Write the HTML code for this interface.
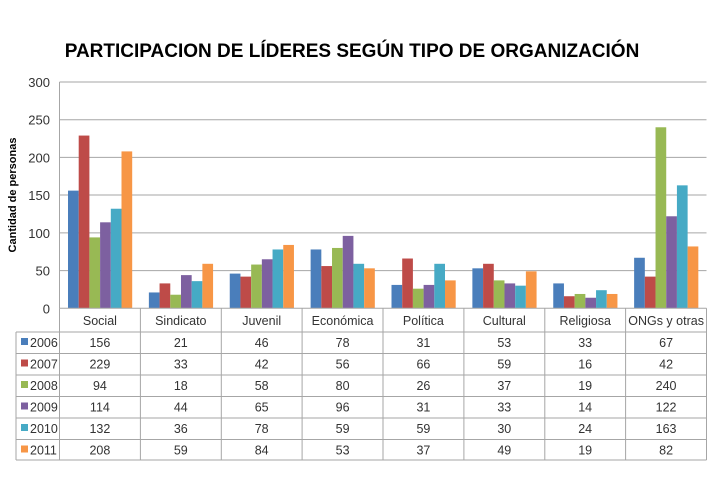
<!DOCTYPE html>
<html><head><meta charset="utf-8"><style>
body{margin:0;background:#fff}
svg{display:block;font-family:"Liberation Sans",sans-serif}
</style></head><body>
<svg width="710" height="500" viewBox="0 0 710 500" xmlns="http://www.w3.org/2000/svg">
<rect width="710" height="500" fill="#fff"/>
<text x="352" y="57" text-anchor="middle" font-size="19" font-weight="bold" fill="#000">PARTICIPACION DE LÍDERES SEGÚN TIPO DE ORGANIZACIÓN</text>
<g stroke="#a6a6a6" stroke-width="1">
<line x1="59.5" x2="706.5" y1="82" y2="82"/>
<line x1="59.5" x2="706.5" y1="119.7" y2="119.7"/>
<line x1="59.5" x2="706.5" y1="157.4" y2="157.4"/>
<line x1="59.5" x2="706.5" y1="195" y2="195"/>
<line x1="59.5" x2="706.5" y1="232.9" y2="232.9"/>
<line x1="59.5" x2="706.5" y1="270.6" y2="270.6"/>
<line x1="59.5" x2="59.5" y1="82" y2="308.3"/>
</g>
<g font-size="13" fill="#333" text-anchor="end">
<text x="50" y="87">300</text><text x="50" y="124.7">250</text><text x="50" y="162.4">200</text>
<text x="50" y="200">150</text><text x="50" y="237.9">100</text><text x="50" y="275.6">50</text><text x="50" y="313.3">0</text>
</g>
<defs>
<g id="c0"><rect x="8.5" width="10.7" height="156" fill="#4a7ebb"/><rect x="19.2" width="10.7" height="229" fill="#be4b48"/><rect x="29.9" width="10.7" height="94" fill="#98b954"/><rect x="40.6" width="10.7" height="114" fill="#7d60a0"/><rect x="51.3" width="10.7" height="132" fill="#46aac5"/><rect x="62" width="10.7" height="208" fill="#f79646"/></g>
</defs>
<g transform="translate(59.5,308.3) scale(1,-0.7543)"><rect x="8.5" width="10.7" height="156" fill="#4a7ebb"/><rect x="19.2" width="10.7" height="229" fill="#be4b48"/><rect x="29.9" width="10.7" height="94" fill="#98b954"/><rect x="40.6" width="10.7" height="114" fill="#7d60a0"/><rect x="51.3" width="10.7" height="132" fill="#46aac5"/><rect x="62" width="10.7" height="208" fill="#f79646"/></g>
<g transform="translate(140.375,308.3) scale(1,-0.7543)"><rect x="8.5" width="10.7" height="21" fill="#4a7ebb"/><rect x="19.2" width="10.7" height="33" fill="#be4b48"/><rect x="29.9" width="10.7" height="18" fill="#98b954"/><rect x="40.6" width="10.7" height="44" fill="#7d60a0"/><rect x="51.3" width="10.7" height="36" fill="#46aac5"/><rect x="62" width="10.7" height="59" fill="#f79646"/></g>
<g transform="translate(221.25,308.3) scale(1,-0.7543)"><rect x="8.5" width="10.7" height="46" fill="#4a7ebb"/><rect x="19.2" width="10.7" height="42" fill="#be4b48"/><rect x="29.9" width="10.7" height="58" fill="#98b954"/><rect x="40.6" width="10.7" height="65" fill="#7d60a0"/><rect x="51.3" width="10.7" height="78" fill="#46aac5"/><rect x="62" width="10.7" height="84" fill="#f79646"/></g>
<g transform="translate(302.125,308.3) scale(1,-0.7543)"><rect x="8.5" width="10.7" height="78" fill="#4a7ebb"/><rect x="19.2" width="10.7" height="56" fill="#be4b48"/><rect x="29.9" width="10.7" height="80" fill="#98b954"/><rect x="40.6" width="10.7" height="96" fill="#7d60a0"/><rect x="51.3" width="10.7" height="59" fill="#46aac5"/><rect x="62" width="10.7" height="53" fill="#f79646"/></g>
<g transform="translate(383,308.3) scale(1,-0.7543)"><rect x="8.5" width="10.7" height="31" fill="#4a7ebb"/><rect x="19.2" width="10.7" height="66" fill="#be4b48"/><rect x="29.9" width="10.7" height="26" fill="#98b954"/><rect x="40.6" width="10.7" height="31" fill="#7d60a0"/><rect x="51.3" width="10.7" height="59" fill="#46aac5"/><rect x="62" width="10.7" height="37" fill="#f79646"/></g>
<g transform="translate(463.875,308.3) scale(1,-0.7543)"><rect x="8.5" width="10.7" height="53" fill="#4a7ebb"/><rect x="19.2" width="10.7" height="59" fill="#be4b48"/><rect x="29.9" width="10.7" height="37" fill="#98b954"/><rect x="40.6" width="10.7" height="33" fill="#7d60a0"/><rect x="51.3" width="10.7" height="30" fill="#46aac5"/><rect x="62" width="10.7" height="49" fill="#f79646"/></g>
<g transform="translate(544.75,308.3) scale(1,-0.7543)"><rect x="8.5" width="10.7" height="33" fill="#4a7ebb"/><rect x="19.2" width="10.7" height="16" fill="#be4b48"/><rect x="29.9" width="10.7" height="19" fill="#98b954"/><rect x="40.6" width="10.7" height="14" fill="#7d60a0"/><rect x="51.3" width="10.7" height="24" fill="#46aac5"/><rect x="62" width="10.7" height="19" fill="#f79646"/></g>
<g transform="translate(625.625,308.3) scale(1,-0.7543)"><rect x="8.5" width="10.7" height="67" fill="#4a7ebb"/><rect x="19.2" width="10.7" height="42" fill="#be4b48"/><rect x="29.9" width="10.7" height="240" fill="#98b954"/><rect x="40.6" width="10.7" height="122" fill="#7d60a0"/><rect x="51.3" width="10.7" height="163" fill="#46aac5"/><rect x="62" width="10.7" height="82" fill="#f79646"/></g>
<g stroke="#a6a6a6" stroke-width="1">
<line x1="59.5" x2="706.5" y1="308.3" y2="308.3"/>
<line x1="16" x2="706.5" y1="332" y2="332"/>
<line x1="16" x2="706.5" y1="353.5" y2="353.5"/>
<line x1="16" x2="706.5" y1="375" y2="375"/>
<line x1="16" x2="706.5" y1="396.5" y2="396.5"/>
<line x1="16" x2="706.5" y1="418" y2="418"/>
<line x1="16" x2="706.5" y1="439.5" y2="439.5"/>
<line x1="16" x2="706.5" y1="460" y2="460"/>
<line x1="16" x2="16" y1="332" y2="460"/>
<line x1="59.5" x2="59.5" y1="308.3" y2="460"/>
<line x1="140.4" x2="140.4" y1="308.3" y2="460"/>
<line x1="221.3" x2="221.3" y1="308.3" y2="460"/>
<line x1="302.1" x2="302.1" y1="308.3" y2="460"/>
<line x1="383" x2="383" y1="308.3" y2="460"/>
<line x1="463.9" x2="463.9" y1="308.3" y2="460"/>
<line x1="544.8" x2="544.8" y1="308.3" y2="460"/>
<line x1="625.6" x2="625.6" y1="308.3" y2="460"/>
<line x1="706.5" x2="706.5" y1="308.3" y2="460"/>
</g>
<rect x="21" y="338" width="7" height="7" fill="#4a7ebb"/>
<rect x="21" y="359.5" width="7" height="7" fill="#be4b48"/>
<rect x="21" y="381" width="7" height="7" fill="#98b954"/>
<rect x="21" y="402.5" width="7" height="7" fill="#7d60a0"/>
<rect x="21" y="424" width="7" height="7" fill="#46aac5"/>
<rect x="21" y="445.5" width="7" height="7" fill="#f79646"/>
<g font-size="12.5" fill="#333">
<text x="30" y="347">2006</text><text x="30" y="368.5">2007</text><text x="30" y="390">2008</text>
<text x="30" y="411.5">2009</text><text x="30" y="433">2010</text><text x="30" y="454.5">2011</text>
</g>
<g font-size="12.5" fill="#333" text-anchor="middle">
<text x="99.9" y="325">Social</text><text x="180.8" y="325">Sindicato</text><text x="261.7" y="325">Juvenil</text><text x="342.6" y="325">Económica</text><text x="423.4" y="325">Política</text><text x="504.3" y="325">Cultural</text><text x="585.2" y="325">Religiosa</text><text x="666.1" y="325">ONGs y otras</text>
<text x="99.9" y="347">156</text><text x="180.8" y="347">21</text><text x="261.7" y="347">46</text><text x="342.6" y="347">78</text><text x="423.4" y="347">31</text><text x="504.3" y="347">53</text><text x="585.2" y="347">33</text><text x="666.1" y="347">67</text>
<text x="99.9" y="368.5">229</text><text x="180.8" y="368.5">33</text><text x="261.7" y="368.5">42</text><text x="342.6" y="368.5">56</text><text x="423.4" y="368.5">66</text><text x="504.3" y="368.5">59</text><text x="585.2" y="368.5">16</text><text x="666.1" y="368.5">42</text>
<text x="99.9" y="390">94</text><text x="180.8" y="390">18</text><text x="261.7" y="390">58</text><text x="342.6" y="390">80</text><text x="423.4" y="390">26</text><text x="504.3" y="390">37</text><text x="585.2" y="390">19</text><text x="666.1" y="390">240</text>
<text x="99.9" y="411.5">114</text><text x="180.8" y="411.5">44</text><text x="261.7" y="411.5">65</text><text x="342.6" y="411.5">96</text><text x="423.4" y="411.5">31</text><text x="504.3" y="411.5">33</text><text x="585.2" y="411.5">14</text><text x="666.1" y="411.5">122</text>
<text x="99.9" y="433">132</text><text x="180.8" y="433">36</text><text x="261.7" y="433">78</text><text x="342.6" y="433">59</text><text x="423.4" y="433">59</text><text x="504.3" y="433">30</text><text x="585.2" y="433">24</text><text x="666.1" y="433">163</text>
<text x="99.9" y="454.5">208</text><text x="180.8" y="454.5">59</text><text x="261.7" y="454.5">84</text><text x="342.6" y="454.5">53</text><text x="423.4" y="454.5">37</text><text x="504.3" y="454.5">49</text><text x="585.2" y="454.5">19</text><text x="666.1" y="454.5">82</text>
</g>
<text transform="translate(16,195) rotate(-90)" text-anchor="middle" font-size="11" font-weight="bold" fill="#000">Cantidad de personas</text>
</svg>
</body></html>
